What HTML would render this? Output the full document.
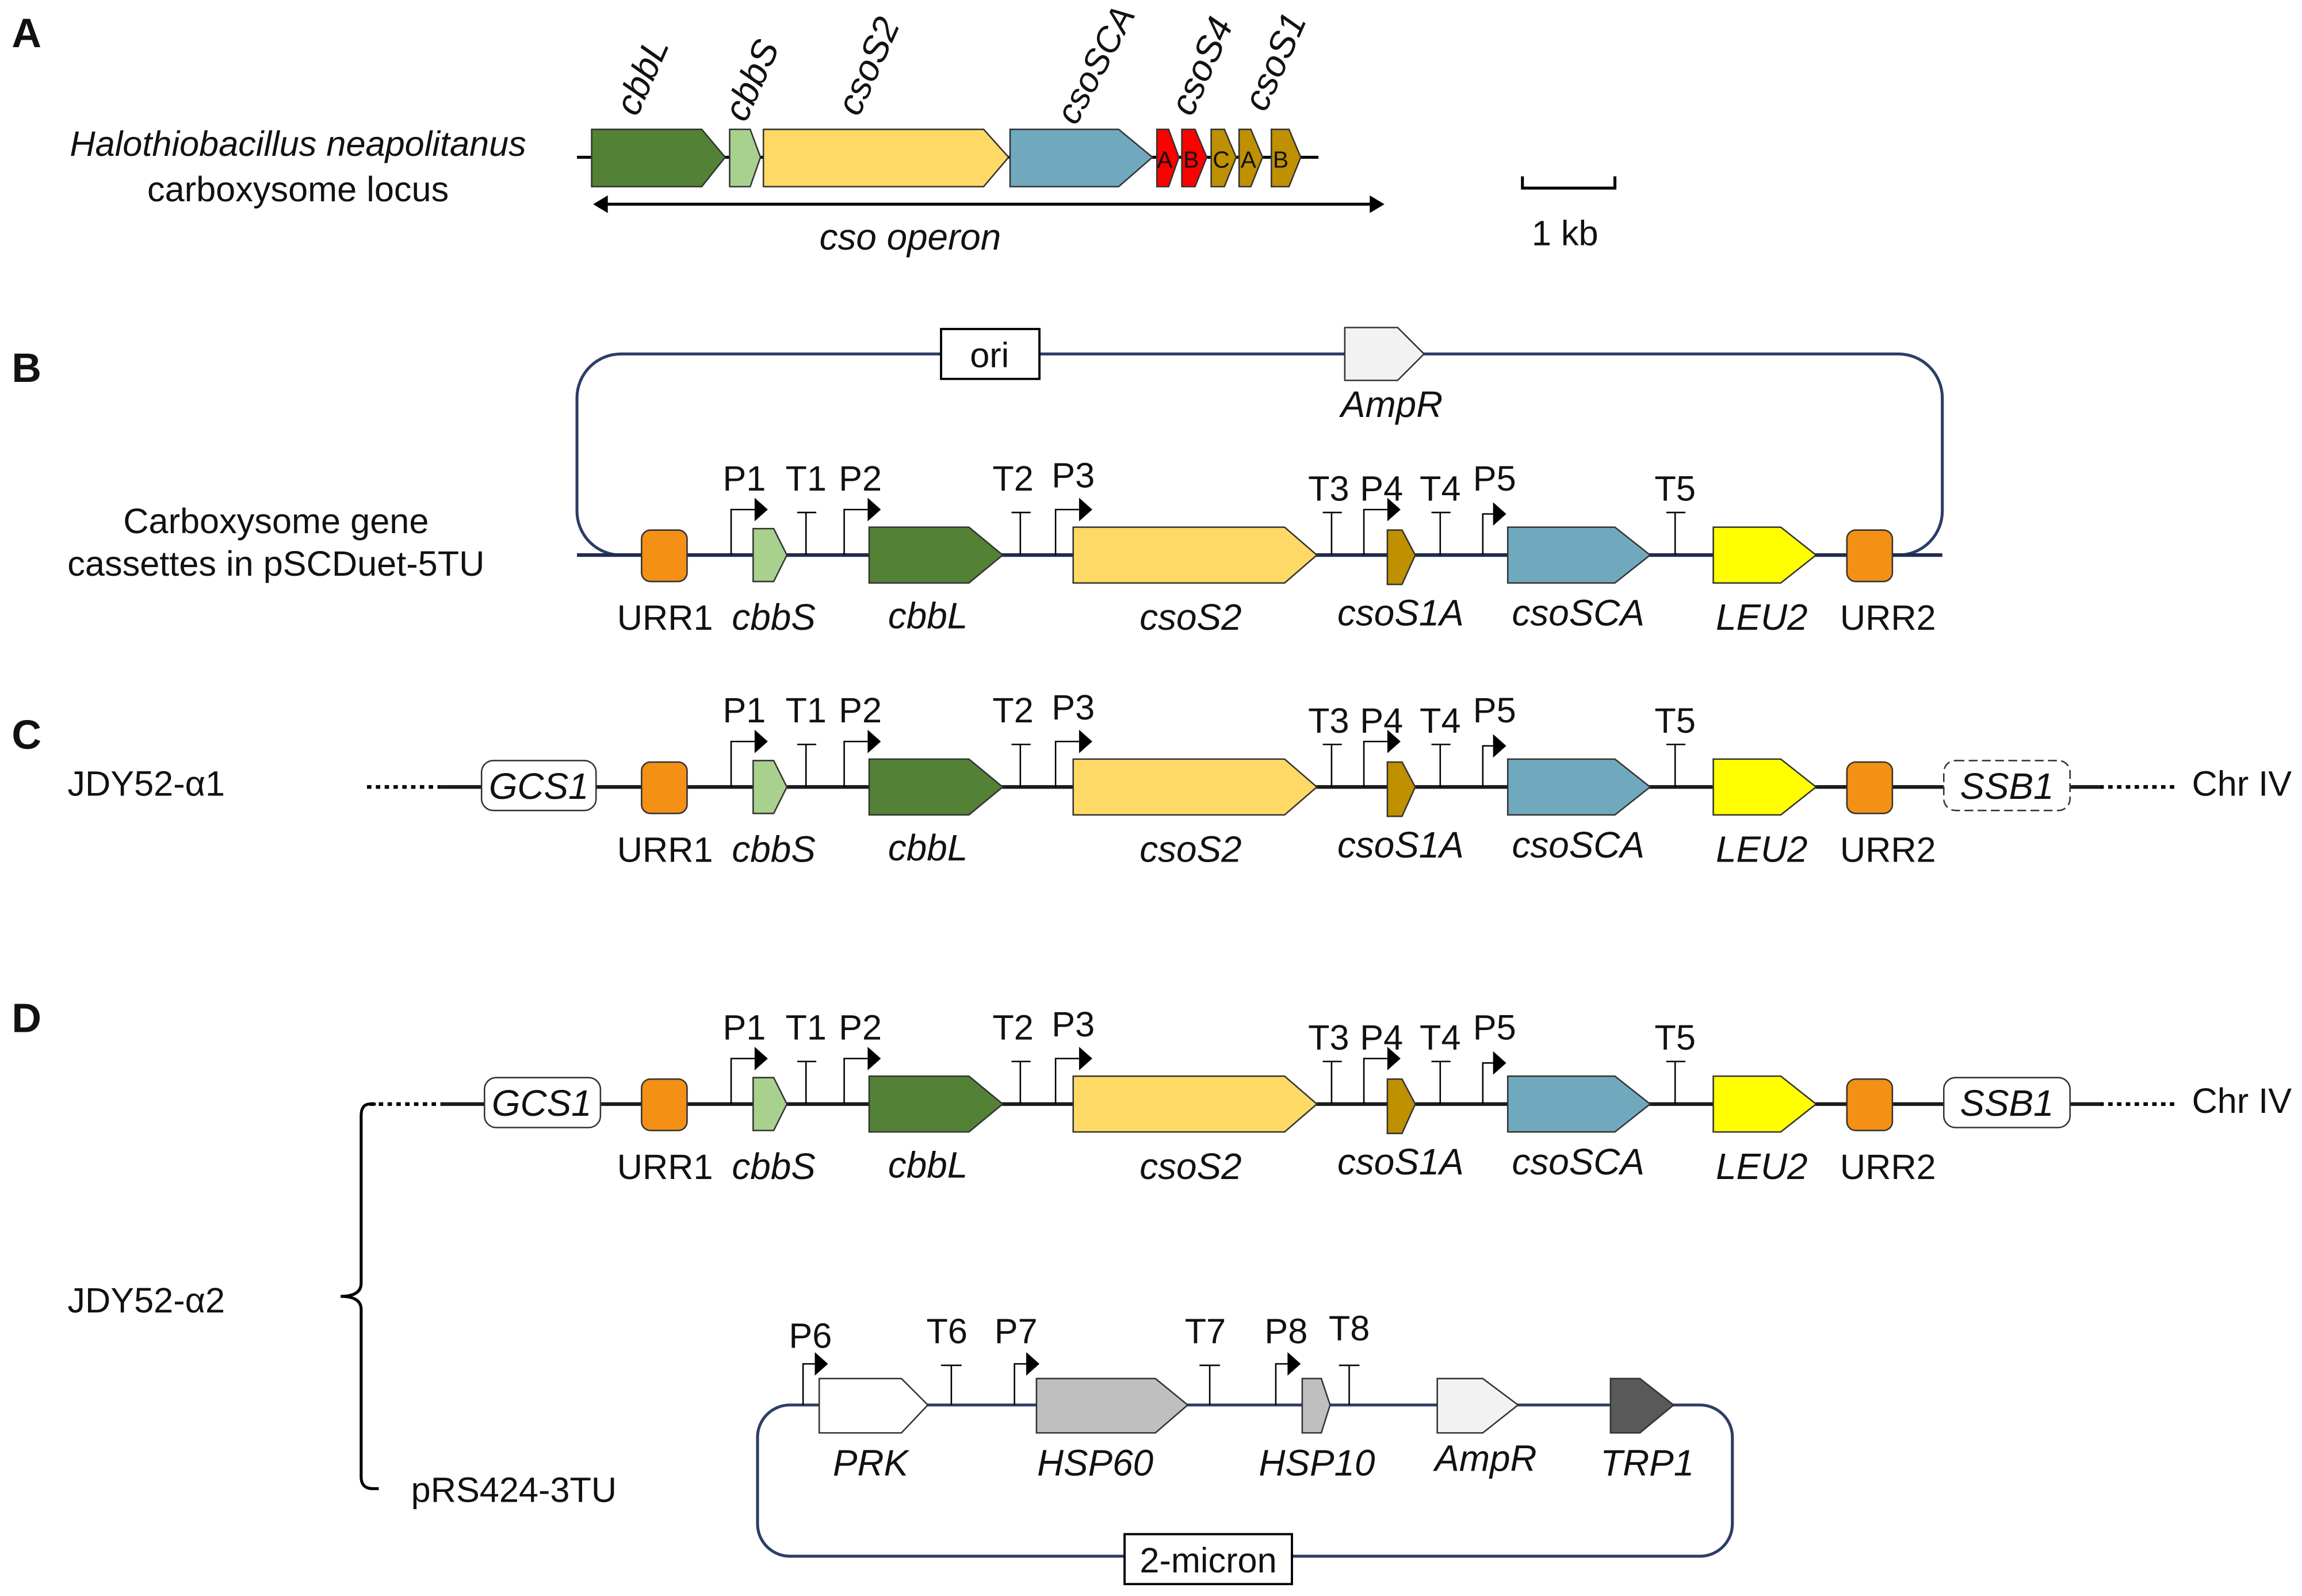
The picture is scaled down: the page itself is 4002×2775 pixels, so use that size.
<!DOCTYPE html>
<html><head><meta charset="utf-8"><style>
html,body{margin:0;padding:0;background:#fff;}
svg{display:block;}
text{font-family:"Liberation Sans",sans-serif;fill:#111;}
.it{font-style:italic;}
.g{stroke:#333;stroke-width:1;}
.pl{fill:none;stroke:#000;stroke-width:1;}
.lab{font-size:24px;}
.gl{font-size:25px;}
</style></head><body>
<svg width="4002" height="2775" viewBox="0 0 1568 1087" xmlns="http://www.w3.org/2000/svg">
<rect width="1568" height="1087" fill="#fff"/>
<text x="8" y="32" font-size="28" font-weight="bold">A</text>
<text x="8" y="260" font-size="28" font-weight="bold">B</text>
<text x="8" y="510" font-size="28" font-weight="bold">C</text>
<text x="8" y="703" font-size="28" font-weight="bold">D</text>

<text x="203" y="106" font-size="24" text-anchor="middle" class="it" fill="#333">Halothiobacillus neapolitanus</text>
<text x="203" y="137" font-size="24" text-anchor="middle" fill="#333">carboxysome locus</text>
<line x1="393" y1="107" x2="898" y2="107" stroke="#000" stroke-width="2"/>
<polygon class="g" fill="#538135" points="403,88 478,88 494,107 478,127 403,127"/>
<polygon class="g" fill="#a9d18e" points="497,88 511,88 518,107 511,127 497,127"/>
<polygon class="g" fill="#ffd966" points="520,88 670,88 687,107 670,127 520,127"/>
<polygon class="g" fill="#70a9be" points="688,88 762,88 785,107 762,127 688,127"/>
<polygon class="g" fill="#ff0000" points="788,88 796,88 803,107 796,127 788,127"/>
<polygon class="g" fill="#ff0000" points="805,88 814,88 822,107 814,127 805,127"/>
<polygon class="g" fill="#bf9000" points="825,88 834,88 842,107 834,127 825,127"/>
<polygon class="g" fill="#bf9000" points="844,88 852,88 860,107 852,127 844,127"/>
<polygon class="g" fill="#bf9000" points="866,88 878,88 886,107 878,127 866,127"/>
<g font-size="16"><text x="788" y="114">A</text><text x="806" y="114">B</text><text x="826" y="114">C</text><text x="845" y="114">A</text><text x="867" y="114">B</text></g>
<g font-size="25" class="it">
<text transform="translate(434,80) rotate(-66)">cbbL</text>
<text transform="translate(508,84) rotate(-66)">cbbS</text>
<text transform="translate(585,80) rotate(-66)">csoS2</text>
<text transform="translate(733,86) rotate(-62)" font-size="24">csoSCA</text>
<text transform="translate(812,80) rotate(-66)">csoS4</text>
<text transform="translate(862,77) rotate(-66)">csoS1</text>
</g>
<line x1="412" y1="139" x2="935" y2="139" stroke="#000" stroke-width="2"/>
<polygon points="404,139 414,133 414,145"/><polygon points="943,139 933,133 933,145"/>
<text x="620" y="170" font-size="25" class="it" text-anchor="middle">cso  operon</text>
<path d="M1037,120 V128 H1100 V120" fill="none" stroke="#000" stroke-width="2"/>
<text x="1066" y="167" font-size="24" text-anchor="middle">1 kb</text>

<rect x="393" y="241" width="930" height="137" rx="30" fill="none" stroke="#2c3e66" stroke-width="2"/>
<rect x="641" y="224" width="67" height="34" fill="#fff" stroke="#000" stroke-width="1.5"/>
<text x="674" y="250" font-size="24" text-anchor="middle">ori</text>
<polygon class="g" fill="#f2f2f2" points="916,223 952,223 970,241 952,259 916,259"/>
<text x="948" y="284" font-size="25" class="it" text-anchor="middle">AmpR</text>
<text x="188" y="363" font-size="24" text-anchor="middle" fill="#333">Carboxysome gene</text>
<text x="188" y="392" font-size="24" text-anchor="middle" fill="#333">cassettes in pSCDuet-5TU</text>

<g>
<line x1="393" y1="378" x2="1323" y2="378" stroke="#1f2d4d" stroke-width="2.5"/>
<rect class="g" x="437" y="361" width="31" height="35" rx="6" fill="#f39015"/>
<polygon class="g" fill="#a9d18e" points="513,360 527,360 536,378 527,396 513,396"/>
<polygon class="g" fill="#538135" points="592,359 660,359 683,378 660,397 592,397"/>
<polygon class="g" fill="#ffd966" points="731,359 875,359 897,378 875,397 731,397"/>
<polygon class="g" fill="#bf9000" points="945,361 955,361 964,378 955,398 945,398"/>
<polygon class="g" fill="#70a9be" points="1027,359 1100,359 1124,378 1100,397 1027,397"/>
<polygon class="g" fill="#ffff00" points="1167,359 1213,359 1237,378 1213,397 1167,397"/>
<rect class="g" x="1258" y="361" width="31" height="35" rx="6" fill="#f39015"/>
<path class="pl" d="M498,378V347H514 M575,378V347H591 M719,378V347H735 M929,378V347H945 M1010,378V350H1017 M549,378V349 M543,349H556 M695,378V349 M689,349H702 M907,378V349 M901,349H914 M981,378V349 M975,349H988 M1141,378V349 M1135,349H1148"/>
<polygon points="514,339 523,347 514,355"/><polygon points="591,339 600,347 591,355"/><polygon points="735,339 744,347 735,355"/><polygon points="945,339 954,347 945,355"/><polygon points="1017,342 1026,350 1017,358"/>
<g class="lab" text-anchor="middle">
<text x="507" y="334">P1</text><text x="549" y="334">T1</text><text x="586" y="334">P2</text><text x="690" y="334">T2</text><text x="731" y="332">P3</text><text x="905" y="341">T3</text><text x="941" y="341">P4</text><text x="981" y="341">T4</text><text x="1018" y="334">P5</text><text x="1141" y="341">T5</text>
<text x="453" y="429">URR1</text><text x="1286" y="429">URR2</text>
<g class="it gl"><text x="527" y="429">cbbS</text><text x="632" y="428">cbbL</text><text x="811" y="429">csoS2</text><text x="954" y="426">csoS1A</text><text x="1075" y="426">csoSCA</text><text x="1200" y="429">LEU2</text></g>
</g>
</g>

<text x="46" y="542" font-size="24" fill="#333">JDY52-α1</text>
<line x1="250" y1="536" x2="300" y2="536" stroke="#000" stroke-width="2.5" stroke-dasharray="3,3"/>
<line x1="1430" y1="536" x2="1482" y2="536" stroke="#000" stroke-width="2.5" stroke-dasharray="3,3"/>
<text x="1493" y="542" font-size="24">Chr IV</text>
<g transform="translate(0,158)">
<line x1="300" y1="378" x2="1430" y2="378" stroke="#1a1a1a" stroke-width="2.5"/>
<rect x="328" y="360" width="78" height="34" rx="8" fill="#fff" stroke="#333" stroke-width="1"/>
<rect x="1324" y="360" width="86" height="34" rx="8" fill="#fff" stroke="#333" stroke-width="1" stroke-dasharray="6,3"/>
<text x="367" y="386" font-size="25" class="it" text-anchor="middle">GCS1</text>
<text x="1367" y="386" font-size="25" class="it" text-anchor="middle">SSB1</text>
<rect class="g" x="437" y="361" width="31" height="35" rx="6" fill="#f39015"/>
<polygon class="g" fill="#a9d18e" points="513,360 527,360 536,378 527,396 513,396"/>
<polygon class="g" fill="#538135" points="592,359 660,359 683,378 660,397 592,397"/>
<polygon class="g" fill="#ffd966" points="731,359 875,359 897,378 875,397 731,397"/>
<polygon class="g" fill="#bf9000" points="945,361 955,361 964,378 955,398 945,398"/>
<polygon class="g" fill="#70a9be" points="1027,359 1100,359 1124,378 1100,397 1027,397"/>
<polygon class="g" fill="#ffff00" points="1167,359 1213,359 1237,378 1213,397 1167,397"/>
<rect class="g" x="1258" y="361" width="31" height="35" rx="6" fill="#f39015"/>
<path class="pl" d="M498,378V347H514 M575,378V347H591 M719,378V347H735 M929,378V347H945 M1010,378V350H1017 M549,378V349 M543,349H556 M695,378V349 M689,349H702 M907,378V349 M901,349H914 M981,378V349 M975,349H988 M1141,378V349 M1135,349H1148"/>
<polygon points="514,339 523,347 514,355"/><polygon points="591,339 600,347 591,355"/><polygon points="735,339 744,347 735,355"/><polygon points="945,339 954,347 945,355"/><polygon points="1017,342 1026,350 1017,358"/>
<g class="lab" text-anchor="middle">
<text x="507" y="334">P1</text><text x="549" y="334">T1</text><text x="586" y="334">P2</text><text x="690" y="334">T2</text><text x="731" y="332">P3</text><text x="905" y="341">T3</text><text x="941" y="341">P4</text><text x="981" y="341">T4</text><text x="1018" y="334">P5</text><text x="1141" y="341">T5</text>
<text x="453" y="429">URR1</text><text x="1286" y="429">URR2</text>
<g class="it gl"><text x="527" y="429">cbbS</text><text x="632" y="428">cbbL</text><text x="811" y="429">csoS2</text><text x="954" y="426">csoS1A</text><text x="1075" y="426">csoSCA</text><text x="1200" y="429">LEU2</text></g>
</g>
</g>

<line x1="252" y1="752" x2="302" y2="752" stroke="#000" stroke-width="2.5" stroke-dasharray="3,3"/>
<line x1="1430" y1="752" x2="1482" y2="752" stroke="#000" stroke-width="2.5" stroke-dasharray="3,3"/>
<text x="1493" y="758" font-size="24">Chr IV</text>
<path d="M256,752 H252 Q246,752 246,760 V874 Q246,883 232,883 Q246,883 246,892 V1006 Q246,1014 254,1014 H258" fill="none" stroke="#000" stroke-width="2"/>
<text x="46" y="894" font-size="24" fill="#333">JDY52-α2</text>
<text x="280" y="1023" font-size="24" fill="#333">pRS424-3TU</text>
<g transform="translate(0,374)">
<line x1="300" y1="378" x2="1430" y2="378" stroke="#1a1a1a" stroke-width="2.5"/>
<rect x="330" y="360" width="79" height="34" rx="8" fill="#fff" stroke="#333" stroke-width="1"/>
<rect x="1324" y="360" width="86" height="34" rx="8" fill="#fff" stroke="#333" stroke-width="1"/>
<text x="369" y="386" font-size="25" class="it" text-anchor="middle">GCS1</text>
<text x="1367" y="386" font-size="25" class="it" text-anchor="middle">SSB1</text>
<rect class="g" x="437" y="361" width="31" height="35" rx="6" fill="#f39015"/>
<polygon class="g" fill="#a9d18e" points="513,360 527,360 536,378 527,396 513,396"/>
<polygon class="g" fill="#538135" points="592,359 660,359 683,378 660,397 592,397"/>
<polygon class="g" fill="#ffd966" points="731,359 875,359 897,378 875,397 731,397"/>
<polygon class="g" fill="#bf9000" points="945,361 955,361 964,378 955,398 945,398"/>
<polygon class="g" fill="#70a9be" points="1027,359 1100,359 1124,378 1100,397 1027,397"/>
<polygon class="g" fill="#ffff00" points="1167,359 1213,359 1237,378 1213,397 1167,397"/>
<rect class="g" x="1258" y="361" width="31" height="35" rx="6" fill="#f39015"/>
<path class="pl" d="M498,378V347H514 M575,378V347H591 M719,378V347H735 M929,378V347H945 M1010,378V350H1017 M549,378V349 M543,349H556 M695,378V349 M689,349H702 M907,378V349 M901,349H914 M981,378V349 M975,349H988 M1141,378V349 M1135,349H1148"/>
<polygon points="514,339 523,347 514,355"/><polygon points="591,339 600,347 591,355"/><polygon points="735,339 744,347 735,355"/><polygon points="945,339 954,347 945,355"/><polygon points="1017,342 1026,350 1017,358"/>
<g class="lab" text-anchor="middle">
<text x="507" y="334">P1</text><text x="549" y="334">T1</text><text x="586" y="334">P2</text><text x="690" y="334">T2</text><text x="731" y="332">P3</text><text x="905" y="341">T3</text><text x="941" y="341">P4</text><text x="981" y="341">T4</text><text x="1018" y="334">P5</text><text x="1141" y="341">T5</text>
<text x="453" y="429">URR1</text><text x="1286" y="429">URR2</text>
<g class="it gl"><text x="527" y="429">cbbS</text><text x="632" y="428">cbbL</text><text x="811" y="429">csoS2</text><text x="954" y="426">csoS1A</text><text x="1075" y="426">csoSCA</text><text x="1200" y="429">LEU2</text></g>
</g>
</g>

<rect x="516" y="957" width="664" height="103" rx="22" fill="none" stroke="#2c3e66" stroke-width="2"/>
<polygon class="g" fill="#ffffff" points="558,939 614,939 632,957 614,976 558,976"/>
<polygon class="g" fill="#bfbfbf" points="706,939 787,939 809,957 787,976 706,976"/>
<polygon class="g" fill="#bfbfbf" points="887,939 900,939 906,957 900,976 887,976"/>
<polygon class="g" fill="#f2f2f2" points="979,939 1010,939 1034,957 1010,976 979,976"/>
<polygon class="g" fill="#595959" points="1097,939 1117,939 1140,957 1117,976 1097,976"/>
<path class="pl" d="M547,957V929H555 M691,957V929H699 M869,957V929H877 M648,957V930 M641,930H655 M824,957V930 M817,930H831 M919,957V930 M912,930H926"/>
<polygon points="555,921 564,929 555,937"/><polygon points="699,921 708,929 699,937"/><polygon points="877,921 886,929 877,937"/>
<g class="lab" text-anchor="middle">
<text x="552" y="918">P6</text><text x="645" y="915">T6</text><text x="692" y="915">P7</text><text x="821" y="915">T7</text><text x="876" y="915">P8</text><text x="919" y="913">T8</text>
<g class="it gl"><text x="593" y="1005">PRK</text><text x="746" y="1005">HSP60</text><text x="897" y="1005">HSP10</text><text x="1012" y="1002">AmpR</text><text x="1122" y="1005">TRP1</text></g>
</g>
<rect x="766" y="1045" width="114" height="34" fill="#fff" stroke="#000" stroke-width="1.5"/>
<text x="823" y="1071" font-size="24" text-anchor="middle">2-micron</text>
</svg>
</body></html>
